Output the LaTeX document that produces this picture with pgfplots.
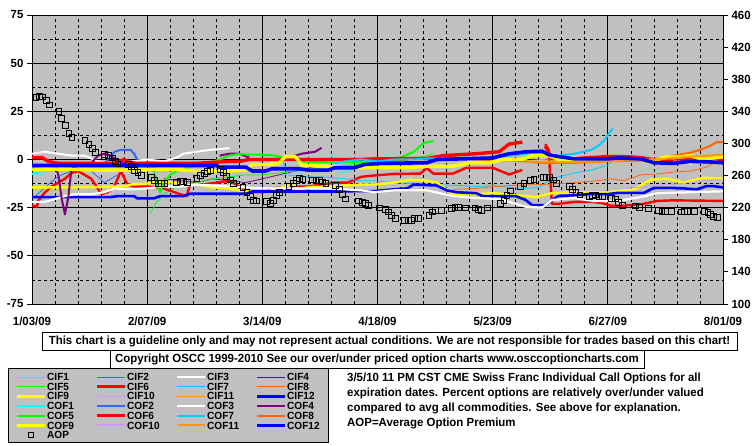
\documentclass[border=0pt]{standalone}
\usepackage{fontspec}
\setmainfont{Liberation Sans}[FakeStretch=0.97]
\usepackage{pgfplots}
\pgfplotsset{compat=1.18}
\definecolor{bg}{HTML}{C0C0C0}
\definecolor{c1}{HTML}{00FFFF}
\definecolor{c2}{HTML}{3366FF}
\definecolor{c3}{HTML}{FFFFFF}
\definecolor{c4}{HTML}{800080}
\definecolor{c5}{HTML}{00FF00}
\definecolor{c6}{HTML}{FF0000}
\definecolor{c7}{HTML}{00CCFF}
\definecolor{c8}{HTML}{FF6600}
\definecolor{c9}{HTML}{FFFF00}
\definecolor{c10}{HTML}{CC99FF}
\definecolor{c11}{HTML}{FF9900}
\definecolor{c12}{HTML}{0000FF}
\tikzset{
 cif1/.style={c1,line width=0.8pt},
 cif2/.style={c2,line width=0.8pt},
 cif3/.style={c3,line width=2pt},
 cif4/.style={c4,line width=0.8pt},
 cif5/.style={c5,line width=0.8pt},
 cif6/.style={c6,line width=2.4pt},
 cif7/.style={c7,line width=0.8pt},
 cif8/.style={c8,line width=0.8pt},
 cif9/.style={c9,line width=2.4pt},
 cif10/.style={c10,line width=0.8pt},
 cif11/.style={c11,line width=0.8pt},
 cif12/.style={c12,line width=2.6pt},
 cof1/.style={c1,line width=2pt},
 cof2/.style={c2,line width=2pt},
 cof3/.style={c3,line width=2.2pt},
 cof4/.style={c4,line width=2pt},
 cof5/.style={c5,line width=2pt},
 cof6/.style={c6,line width=3.4pt},
 cof7/.style={c7,line width=2pt},
 cof8/.style={c8,line width=2pt},
 cof9/.style={c9,line width=3.4pt},
 cof10/.style={c10,line width=2pt},
 cof11/.style={c11,line width=2pt},
 cof12/.style={c12,line width=3.6pt},
}
\newcommand{\lf}{\fontsize{10.4}{11}\selectfont\bfseries}
\newcommand{\legentry}[4]{%
 \draw[#3] ({17+80*#1},{69-9.7*#2}) -- ({45+80*#1},{69-9.7*#2});
 \node[anchor=west,inner sep=0pt,font=\lf] at ({47+80*#1},{69-9.7*#2}) {#4};}
\newcommand{\ff}{\fontsize{11.8}{13}\selectfont\bfseries}
\begin{document}
\begin{tikzpicture}[x=1pt,y=1pt,font=\ff]
\useasboundingbox (0,0) rectangle (755,446);
\begin{axis}[
 at={(32pt,142pt)}, anchor=south west, scale only axis,
 width=691pt, height=289pt,
 xmin=0, xmax=210, ymin=-75, ymax=75,
 axis background/.style={fill=bg},
 xtick={0,35,70,105,140,175,210},
 xticklabels={1/03/09,2/07/09,3/14/09,4/18/09,5/23/09,6/27/09,8/01/09},
 xticklabel style={yshift=-4pt},
 minor xtick={7,14,21,28,42,49,56,63,77,84,91,98,112,119,126,133,147,154,161,168,182,189,196,203},
 ytick={-75,-50,-25,0,25,50,75},
 yticklabels={-75,-50,-25,0,25,50,75},
 minor ytick={-62.5,-37.5,-12.5,12.5,37.5,62.5},
 grid=both,
 major grid style={black,line width=0.7pt},
 minor grid style={black,line width=0.7pt,dash pattern=on 3pt off 3pt},
 ytick pos=left, xtick pos=bottom,
 tick align=outside, major tick length=5pt, minor tick length=0pt,
 xtick style={draw=none},
 ytick style={black,line width=0.8pt},
 axis line style={black,line width=0.8pt},
 tick label style={font=\ff},
 unbounded coords=jump,
 line join=round,
]
% CIF1
\addplot[cif1] coordinates {(0,-8) (1,-7) (3,-8) (4,-6) (6,-5) (8,-4) (9,nan) (91,3) (92,-3) (94,-7) (96,-6) (98,-5) (100,-3) (102,-2) (104,-1)};
% CIF2
\addplot[cif2] coordinates {(1,-19) (3,-16) (5,-13) (7,-10) (9,-8) (12,-6) (15,-5) (18,-6) (20,-9) (22,-12) (24,-10) (26,-8)};
% CIF3
\addplot[cif3] coordinates {(0,3) (4,4) (8,3) (12,2) (16,2) (20,-1) (25,-2) (30,-1) (35,0) (40,-1) (44,1) (46,3) (50,4) (54,5) (58,5.5) (60,6) (61,nan) (140,1) (145,3.5) (150,4.5) (155,4.5) (160,2) (170,0.5) (180,1) (190,-1) (200,-2) (210,-1)};
% CIF4
\addplot[cif4] coordinates {(40,-10) (45,-11) (50,-12) (55,-10) (60,-11) (65,-12) (70,-10) (75,-8) (80,-6) (85,-4) (88,-3)};
% CIF5
\addplot[cif5] coordinates {(36,-27.7) (38,-22) (40,-18) (43,-15) (46,-13) (50,-12) (55,-10) (60,-9) (65,-8) (70,-8) (75,-7) (80,-6) (85,-5) (90,-4) (95,-3) (100,-2.5) (105,-2) (110,-1) (115,0) (120,2) (122,3)};
% CIF6
\addplot[cif6] coordinates {(0,-24) (1.5,-24.5) (2,-21) (4,-17) (6,-14) (8,-12) (10,-10) (12,-7) (14,-6) (16,-8) (18,-10) (20,-15) (21,-18) (23,-17) (25,-14) (26,-10) (27,-6) (29,-13) (31,-14) (35,-14) (40,-15) (45,-18) (47,-19) (48,-13) (52,-13) (56,-12) (60,-11) (62,-13) (66,-17) (70,-17) (74,-15) (78,-14) (84,-14) (88,-13) (92,-12) (96,-12) (100,-9) (104,-8.3) (110,-7.5) (118,-7.3) (120,-4.5) (122,-7.3) (128,-7.3) (132,-4.3) (140,-4.3) (145,-7.8) (148,-6) (149,-5.5) (150,nan) (156,8) (157,5) (158,-23) (160,-23) (165,-22) (170,-22) (173,-22.5) (176,-24) (180,-24) (186,-23) (190,-21.5) (195,-21.2) (210,-21.5)};
% CIF7
\addplot[cif7] coordinates {(76,1) (77,-5) (78,-8) (82,-9) (88,-9) (95,-10) (100,-11) (104,-11) (110,-12) (120,-13) (130,-13.5) (135,-14) (140,-13.5) (145,-14.5) (150,-15) (154,-14.5) (157,-11) (160,-9) (165,-7) (170,-5.5) (175,-3) (176,-1)};
% CIF8
\addplot[cif8] coordinates {(128,-15.5) (135,-15) (145,-13.5) (155,-13) (165,-12) (172,-11) (176,-10) (180,-11) (185,-8) (190,-7.5) (195,-6.5) (200,-6) (205,-4) (207,-2)};
% CIF9
\addplot[cif9] coordinates {(0,-14.5) (10,-14.5) (20,-14.3) (28,-14) (30,-13) (35,-12.5) (38,-11.8) (42,-11.8) (46,-13) (50,-13) (55,-14.5) (60,-15) (64,-16.4) (68,-16.8) (72,-16.5) (75,-15) (78,-13.5) (80,-13.5) (81,-17) (82,-15) (85,-14.2) (90,-14.2) (95,-13.5) (100,-13) (104,-13) (110,-12) (115,-10.5) (120,-11) (123,-12) (128,-18) (134,-18) (140,-17.5) (147,-18.5) (153,-19.5) (158,-17.5) (165,-17) (170,-17) (175,-17) (183,-15.5) (188,-10.5) (193,-10) (198,-12) (204,-9.5) (210,-9.8)};
% CIF10
\addplot[cif10] coordinates {(180,-15) (190,-13.5) (200,-12) (205,-11) (210,-10)};
% CIF11
\addplot[cif11] coordinates {(140,0) (150,0.5) (160,-0.5) (170,-1) (180,-0.5) (190,-1) (200,1) (210,2)};
% CIF12
\addplot[cif12] coordinates {(0,-19.5) (10,-19.5) (20,-19.5) (24,-19.5) (26,-19) (31,-19) (32,-20.2) (37,-20.2) (39,-19) (46,-19) (48,-17.8) (58,-17.8) (65,-17.8) (67,-16.6) (80,-16.6) (92,-16.6) (100,-16.4) (104,-16.4) (110,-15.5) (114,-15) (116,-13) (123,-13.5) (126,-16) (129,-17) (135,-17.5) (137,-19) (147,-19) (150,-21) (152,-23.7) (156,-23.7) (158,-21) (160,-19) (165,-18.5) (169,-18) (175,-18) (178,-17.3) (186,-17.3) (189,-14.7) (194,-14.7) (198,-15) (202,-15.5) (205,-13.8) (207,-13.8) (210,-14.5)};
% COF1
\addplot[cof1] coordinates {(0,-7.5) (1,-7) (2,-7.2)};
% COF2
\addplot[cof2] coordinates {(22,-2) (24,1) (25,4) (27,5) (30,5) (31,3) (32,0)};
% COF3
\addplot[cof3] coordinates {(0,-22) (4,-22) (6,-21) (8,-20) (10,-19) (13,-18) (18,-18) (22,-17) (25,-15) (30,-15.5) (35,-15) (40,-14) (45,-14) (50,-13) (60,-14) (70,-15) (80,-15) (90,-15) (100,-16) (104,-17) (110,-16) (120,-16) (128,-19) (135,-20) (142,-20.5) (150,-24.5) (155,-25) (158,-21) (165,-20) (170,-21.5) (178,-21.5) (185,-19.5) (190,-17.5) (200,-17) (210,-16.5)};
% COF4
\addplot[cof4] coordinates {(0,-4) (4,-3) (7,-3) (8,-8) (9,-20) (10,-28.5) (11,-20) (12,-5) (14,-3) (18,-2) (20,2) (22,3) (24,2) (26,-1) (28,-2) (30,-1) (32,-2) (35,-3) (36,nan) (57,2) (60,3) (63,3) (66,1) (67,nan) (78,1) (82,3) (86,4) (88,6)};
% COF5
\addplot[cof5] coordinates {(36,-2) (37,-5) (38,-14) (39,-17) (40,-12) (42,-8) (44,-6) (50,-3) (55,-1) (57,0) (60,2) (63,3) (66,2.5) (70,2.5) (74,2) (78,0) (82,-1) (90,-1.5) (100,-1.5) (104,-1.7) (110,0) (113,1.7) (116,4) (119,8.6) (122,9.5)};
% COF6
\addplot[cof6] coordinates {(0,1) (3,1) (5,-1) (8,-2) (12,-2) (20,-2) (25,-2) (28,0) (30,-2) (40,-2) (50,-2) (55,-1.5) (60,-1) (63,-1) (66,0) (70,0) (80,0) (90,0) (100,0) (104,0.3) (115,0.5) (120,0.5) (125,2) (135,3) (142,4) (145,8) (149,9) (150,nan) (156,7) (157,4) (158,0.5) (165,0.5) (170,1) (175,1.5) (180,1.5) (185,1) (190,-0.5) (195,-1) (200,0) (205,-0.5) (210,-0.5)};
% COF7
\addplot[cof7] coordinates {(92,-2) (95,-1) (100,0) (105,-1) (110,0) (115,0) (120,0.5) (140,1) (150,3) (155,3) (160,2) (165,3) (170,5) (172,7) (174,10) (175.5,14) (176.5,16)};
% COF8
\addplot[cof8] coordinates {(135,0) (145,-0.5) (150,-1) (155,-1.7) (165,-1.7) (175,-1) (185,-0.5) (190,0.5) (195,2) (200,3.5) (203,5) (206,7) (208,9) (210,9)};
% COF9
\addplot[cof9] coordinates {(0,-5) (10,-5) (20,-5.5) (30,-5.5) (40,-5) (45,-5.3) (50,-6) (60,-6) (65,-5.5) (67,-2.6) (72,-2.6) (75,-2) (77,1.5) (80,1.5) (82,-3) (90,-3.5) (95,-4.3) (104,-4.3) (115,-4.3) (120,-3.5) (128,-3.5) (133,-1.7) (139,-1.7) (143,0) (149,0) (152,2) (157,2) (160,0) (165,-0.5) (175,-0.5) (180,0.3) (185,0.3) (188,-1.7) (192,1.2) (196,1.2) (200,2) (204,0) (210,1.5)};
% COF10
\addplot[cof10] coordinates {(195,-1) (200,-1.5) (205,-2) (208,-0.5)};
% COF11
\addplot[cof11] coordinates {(150,-1) (160,-1.5) (170,-1) (180,-0.5) (190,0) (200,1.5) (210,2.5)};
% COF12
\addplot[cof12] coordinates {(0,-3.1) (20,-3.1) (40,-3.1) (56,-3.1) (57,-4) (65,-4) (67,-6) (71,-6) (73,-4.8) (81,-4.8) (84,-5.5) (90,-5.5) (92,-4.3) (98,-4.3) (101,-2.6) (106,-2) (120,-1.7) (123,0) (130,0.3) (140,0.8) (145,3) (150,4) (155,4.3) (157,2.5) (160,1.5) (165,0.3) (175,0.3) (178,0.8) (185,0.3) (189,-1.7) (195,-2) (200,-1) (205,-1.2) (210,-1.7)};
\end{axis}
\begin{axis}[
 at={(32pt,142pt)}, anchor=south west, scale only axis,
 width=691pt, height=289pt,
 xmin=0, xmax=210, ymin=100, ymax=460,
 axis x line=none, axis y line*=right,
 ytick={100,140,180,220,260,300,340,380,420,460},
 yticklabels={100,140,180,220,260,300,340,380,420,460},
 tick align=outside, major tick length=5pt,
 ytick style={black,line width=0.8pt},
 axis line style={black,line width=0.8pt},
 yticklabel style={anchor=west},
 tick label style={font=\ff},
]
\addplot[only marks, mark=square, mark size=2.9pt, mark options={draw=black,line width=0.8pt,fill=none}] coordinates {
(1.2,357.5) (2.2,359) (3.2,358) (4.3,354) (5.2,348) (8.2,339.6) (9,331) (10.2,322) (11.2,313) (12.1,307.6)
(16.1,303.4) (17.3,299.3) (18.3,293.5) (19.2,288.5) (22.1,286) (23.1,284.7) (24.4,282) (25.3,277.8) (26.1,274.4)
(29.2,273.5) (30.1,271) (31.1,266) (32.2,263.6) (33.2,260) (36.2,258) (37.1,254) (38.3,250.7) (39.3,250) (40.3,250)
(44,251) (45,252.4) (46,252.4) (47.3,251) (50.1,256) (51.1,260) (52.3,263) (53.2,265) (54.2,266)
(57.2,268) (58.2,264) (59.2,258.6) (60.3,254.5) (61.3,250.7) (64.1,245) (65.3,239) (66.3,233.7) (67.3,229.5) (68.2,228.3)
(71.2,227.5) (72.4,225.8) (73.4,229) (74.2,235) (75.3,239.5) (78.1,246) (79.5,250) (80.3,254) (81.3,256.6) (82.3,255.7)
(85.1,254.5) (86.3,254) (87.3,254) (88.3,252) (89.3,250) (92.1,248) (93.3,243) (94.3,237) (95.3,231)
(99.2,228.3) (100.3,227) (101.3,225.8) (102.3,223) (105.6,219.6) (107.4,218.3) (108.2,214.6) (109.2,210) (110.5,206.3)
(113.2,204.6) (114.3,203.8) (115.3,204.6) (116.3,206.3) (117.4,207) (120.6,210.5) (121.6,214.6) (122.6,216.3) (124.5,216.3)
(127.5,218.8) (128.5,220.4) (129.6,220.4) (131.6,219.6) (134.6,219.6) (135.6,218) (136.6,216.3) (138.5,219.6)
(142.4,225.4) (143.4,228.7) (144.3,235) (145.5,241) (148.5,246) (149.5,250) (151.5,253.6) (152.5,255.7)
(155.4,257.4) (156.4,258) (157.4,257.4) (158.5,254.5) (159.4,250) (163.2,246) (164.3,243) (165.3,239.5) (166.5,236)
(169.3,233.7) (170.3,235.4) (171.3,235.8) (172.3,234.5) (173.4,233.7) (176.2,232) (177.2,231) (178.3,227) (179.5,223)
(183.3,222.1) (184.5,220.4) (187.4,218.8) (190.4,217) (191.4,215.5) (192.4,215.5) (194.3,215.5)
(197.3,214.6) (198.3,215.5) (199.3,215.5) (201.4,215.5) (204.4,215.5) (205.4,213.8) (206.2,212.1) (207.2,209.6) (208.3,207.5)};
\end{axis}
% disclaimer and copyright boxes
\draw[black,line width=0.8pt] (42,96) rectangle (737,114);
\node[inner sep=0pt] at (389.5,105) {This chart is a guideline only and may not represent actual conditions. We are not responsible for trades based on this chart!};
\draw[black,line width=0.8pt] (110,78) rectangle (644,96);
\node[inner sep=0pt] at (377,87) {Copyright OSCC 1999-2010 See our over/under priced option charts www.osccoptioncharts.com};
% legend
\draw[fill=bg,draw=black,line width=0.8pt] (8,4) rectangle (328,78);
\legentry{0}{0}{cif1}{CIF1}\legentry{1}{0}{cif2}{CIF2}\legentry{2}{0}{cif3}{CIF3}\legentry{3}{0}{cif4}{CIF4}
\legentry{0}{1}{cif5}{CIF5}\legentry{1}{1}{cif6}{CIF6}\legentry{2}{1}{cif7}{CIF7}\legentry{3}{1}{cif8}{CIF8}
\legentry{0}{2}{cif9}{CIF9}\legentry{1}{2}{cif10}{CIF10}\legentry{2}{2}{cif11}{CIF11}\legentry{3}{2}{cif12}{CIF12}
\legentry{0}{3}{cof1}{COF1}\legentry{1}{3}{cof2}{COF2}\legentry{2}{3}{cof3}{COF3}\legentry{3}{3}{cof4}{COF4}
\legentry{0}{4}{cof5}{COF5}\legentry{1}{4}{cof6}{COF6}\legentry{2}{4}{cof7}{COF7}\legentry{3}{4}{cof8}{COF8}
\legentry{0}{5}{cof9}{COF9}\legentry{1}{5}{cof10}{COF10}\legentry{2}{5}{cof11}{COF11}\legentry{3}{5}{cof12}{COF12}
\draw[black,line width=0.8pt] (28.5,8.5) rectangle (33.5,13.5);
\node[anchor=west,inner sep=0pt,font=\lf] at (47,10.8) {AOP};
% description
\node[anchor=west,inner sep=0pt] at (347,68) {3/5/10 11 PM CST CME Swiss Franc Individual Call Options for all};
\node[anchor=west,inner sep=0pt] at (347,53) {expiration dates. Percent options are relatively over/under valued};
\node[anchor=west,inner sep=0pt] at (347,38) {compared to avg all commodities. See above for explanation.};
\node[anchor=west,inner sep=0pt] at (347,23) {AOP=Average Option Premium};
\end{tikzpicture}
\end{document}
